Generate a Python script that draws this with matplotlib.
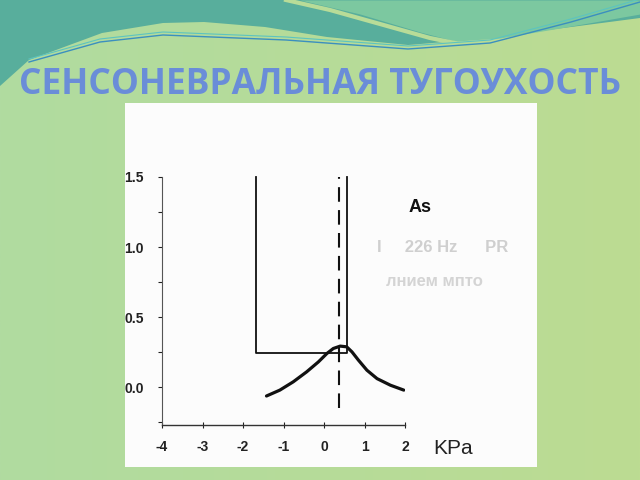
import matplotlib
matplotlib.use("Agg")
import numpy as np
import matplotlib.pyplot as plt
from matplotlib.ticker import MultipleLocator

# tympanogram curve (pressure kPa, compliance)
pressure = [-1.42, -1.09, -0.76, -0.43, -0.14, 0.07, 0.23, 0.40, 0.56, 0.69, 0.85, 1.06, 1.31, 1.64, 1.97]
compliance = [-0.063, -0.021, 0.038, 0.109, 0.18, 0.24, 0.276, 0.293, 0.288, 0.252, 0.193, 0.121, 0.061, 0.014, -0.021]

# normal range box (open at top) and peak pressure marker
box_left, box_right, box_bottom, box_top = -1.69, 0.57, 0.245, 1.5
peak_x, peak_y0, peak_y1 = 0.37, -0.15, 1.5

x_ticks = [-4, -3, -2, -1, 0, 1, 2]
y_ticks = [0.0, 0.5, 1.0, 1.5]
y_labels = ["0.0", "0.5", "1.0", "1.5"]

title = "СЕНСОНЕВРАЛЬНАЯ ТУГОУХОСТЬ"

fig = plt.figure(figsize=(6.4, 4.8), dpi=100)

# slide background
bg = fig.add_axes([0, 0, 1, 1])
grad = np.linspace(0, 1, 256)[None, :]
bg.imshow(grad, extent=[0, 640, 480, 0], aspect="auto",
          cmap=matplotlib.colors.LinearSegmentedColormap.from_list("g", ["#b0dba0", "#bcdc92"]))
bg.set_xlim(0, 640)
bg.set_ylim(480, 0)
bg.axis("off")

wave_x = [0, 29, 102, 163, 204, 265, 327, 408, 469, 571, 640]
wave_y = [86, 60, 33, 23, 22, 27, 37, 45, 40, 27, 18]
bg.fill_between(wave_x, 0, wave_y, color="#58ae9c", lw=0)
light_x = [300, 360, 420, 455, 500, 560, 640]
light_y = [0, 14, 32, 41, 38, 28, 14]
bg.fill_between(light_x, 0, light_y, color="#7cc8a0", lw=0)
bg.plot([286, 330, 380, 430, 455], [0, 10, 24, 38, 43], color="#b8dc98", lw=3)
line_x = [29, 100, 163, 286, 408, 490, 571, 640]
line_y = [62, 42, 35, 40, 49, 43, 22, 2]
bg.plot(line_x, line_y, color="#3b8fbf", lw=1)
bg.plot(line_x, [v - 3 for v in line_y], color="#5cc4c0", lw=0.8)

bg.text(320, 85, title, ha="center", va="center", color="#6a8dd8",
        fontsize=25.5, fontweight="bold", family="Open Sans")

# scanned page panel
panel = fig.add_axes([125 / 640, 13 / 480, 412 / 640, 364 / 480])
panel.set_facecolor("#fcfcfc")
panel.set_xlim(125, 537)
panel.set_ylim(467, 103)
panel.set_xticks([])
panel.set_yticks([])
for s in panel.spines.values():
    s.set_visible(False)
panel.text(377, 248, "I     226 Hz      PR", color="#cfcfcf", fontsize=12,
           family="Liberation Sans", fontweight="bold", va="center", clip_on=True)
panel.text(386, 282, "лнием мпто", color="#d4d4d4", fontsize=12,
           family="Liberation Sans", fontweight="bold", va="center", clip_on=True)

# tympanogram
ax = fig.add_axes([162 / 640, 55 / 480, 243 / 640, 248 / 480])
ax.patch.set_alpha(0)
ax.set_xlim(-4, 2)
ax.set_ylim(-0.27, 1.5)

ax.plot(pressure, compliance, color="#111111", lw=2.3, solid_capstyle="round")
ax.plot([box_left, box_left, box_right, box_right],
        [box_top, box_bottom, box_bottom, box_top], color="#111111", lw=1.3, clip_on=False)
ax.plot([peak_x, peak_x], [peak_y0, peak_y1], color="#111111", lw=1.5,
        dashes=(7, 4), clip_on=False)

for side in ["top", "right"]:
    ax.spines[side].set_visible(False)
ax.spines["left"].set_color("#555555")
ax.spines["left"].set_linewidth(0.8)
ax.spines["bottom"].set_color("#333333")
ax.spines["bottom"].set_linewidth(1.0)
ax.spines["bottom"].set_linestyle((0, (3, 1)))

ax.set_xticks(x_ticks)
ax.set_xticklabels([str(v) for v in x_ticks])
ax.set_yticks(y_ticks)
ax.set_yticklabels(y_labels)
ax.yaxis.set_minor_locator(MultipleLocator(0.25))
ax.tick_params(axis="x", direction="inout", length=4, width=0.8, pad=9,
               labelsize=10, colors="#222222")
ax.tick_params(axis="y", which="both", direction="out", length=3, width=0.8, pad=10,
               labelsize=10, colors="#222222")
for lab in ax.get_xticklabels() + ax.get_yticklabels():
    lab.set_fontweight("bold")
    lab.set_family("Liberation Sans")

ax.text(2.7, -0.44, "KPa", fontsize=15, family="Liberation Sans", va="center",
        ha="left", color="#222222", clip_on=False)
ax.text(2.08, 1.28, "As", fontsize=13, fontweight="bold", family="Liberation Sans",
        va="center", ha="left", color="#111111", clip_on=False)

fig.savefig("out.png", dpi=100)
